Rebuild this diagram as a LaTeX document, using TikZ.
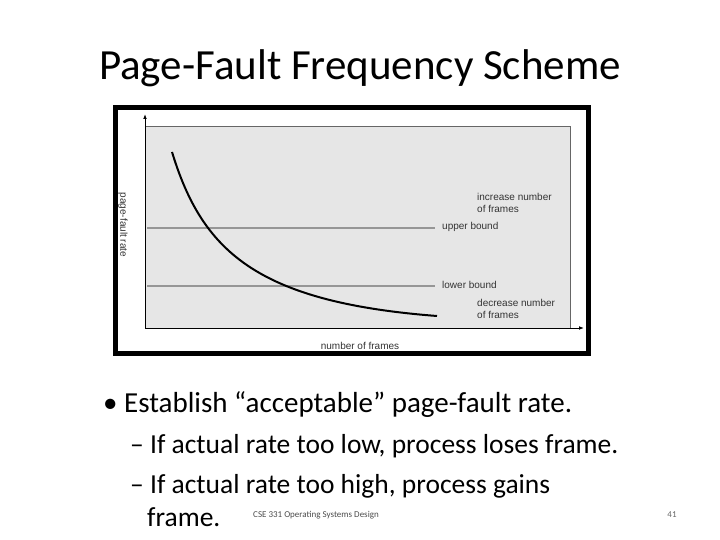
\documentclass[tikz,border=0pt]{standalone}
\usepackage{fontspec}
\setmainfont{Carlito}
\newfontfamily\plotfont{Liberation Sans}
\usetikzlibrary{arrows.meta}
\definecolor{plotgray}{RGB}{230,230,230}
\definecolor{boundgray}{RGB}{150,150,150}

\begin{document}
\begin{tikzpicture}[x=1pt, y=-1pt,
    plotlabel/.style={font=\plotfont\fontsize{10}{12}\selectfont, text=black!80, inner sep=0pt, align=left},
    slidetext/.style={inner sep=0pt, anchor=west},
    bound/.style={boundgray, line width=1.2pt}
]
\useasboundingbox (0,0) rectangle (720,540);

% Title
\node (title) at (360,68) {\fontsize{43}{50}\selectfont Page-Fault Frequency Scheme};

% Graph
\draw[line width=5pt] (115,108) rectangle (588,353);
\fill[plotgray] (145,126) rectangle (570,328);
\draw[black!60, line width=0.4pt] (145,126) -- (570,126) -- (570,328);
\draw[line width=1pt, -{Latex[length=5pt]}] (145,328) -- (584,328);
\draw[line width=1pt, -{Latex[length=5pt]}] (145,328) -- (145,114);
\draw[bound] (147,228) -- (435,228);
\draw[bound] (147,286) -- (435,286);
\draw[line width=2pt] (172,152) .. controls (202,250) and (255,302) .. (437,316);

% Graph labels
\node[plotlabel, anchor=west] (incr) at (477,203) {increase number\\of frames};
\node[plotlabel, anchor=west] (upper) at (442,227) {upper bound};
\node[plotlabel, anchor=west] (lower) at (442,285) {lower bound};
\node[plotlabel, anchor=west] (decr) at (477,309) {decrease number\\of frames};
\node[plotlabel, rotate=-90] (yaxis) at (123,225) {page-fault rate};
\node[plotlabel] (xaxis) at (360,346) {number of frames};

% Bullets
\node[slidetext] (b1) at (103,405) {\fontsize{29}{34}\selectfont • Establish “acceptable” page-fault rate.};
\node[slidetext] (s1) at (130,446) {\fontsize{27.5}{32}\selectfont – If actual rate too low, process loses frame.};
\node[slidetext] (s2) at (130,486) {\fontsize{27.5}{32}\selectfont – If actual rate too high, process gains};
\node[slidetext] (s3) at (147,517) {\fontsize{27.5}{32}\selectfont frame.};

% Footer
\node[slidetext, font=\fontsize{9}{11}\selectfont, text=black!70] (footer) at (253,515) {CSE 331 Operating Systems Design};
\node[font=\fontsize{9}{11}\selectfont, text=black!60] (page) at (672,515) {41};
\end{tikzpicture}
\end{document}
